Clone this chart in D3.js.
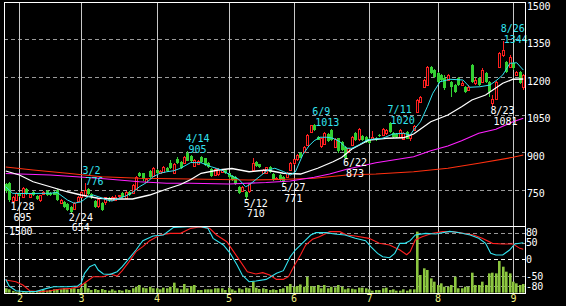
<!DOCTYPE html>
<html>
<head>
<meta charset="utf-8">
<script src="https://cdn.jsdelivr.net/npm/d3@7"></script>
<style>
  html, body { margin: 0; padding: 0; background: #000; }
  svg { display: block; }
  text { font-family: "DejaVu Sans Mono", monospace; font-size: 10px; }
</style>
</head>
<body>
<svg id="chart" width="566" height="306"></svg>
<script>
// daily candles, Jan 26 .. Sep 5 (index = trading day)
const opens = [771,777,708,710,738,722,751,724,742,724, 705,733,745,737,741,748,697,701,692,679,
  671,705,722,728,752,731,705,682,697,697, 715,708,710,722,737,716,742,735,752,817,
  815,782,825,803,828,816,822,836,855,818, 872,860,856,898,884,845,855,879,875,855,
  831,808,812,821,828,815,804,799,759,745, 741,741,830,861,851,817,817,841,812,795,
  808,801,801,828,855,871,897,901,928,981, 1010,961,921,935,972,988,921,955,941,921,
  901,928,975,951,964,961,951,955,955,968, 968,975,1015,975,972,961,955,981,955,988,
  1061,1101,1161,1168,1241,1228,1215,1208,1195,1188, 1181,1168,1195,1170,1161,1148,1248,1175,1195,1181,
  1215,1181,1098,1115,1241,1288,1261,1241,1257,1208, 1221,1160];
const highs = [775,781,726,740,742,761,755,738,746,728, 730,745,750,742,745,752,713,704,696,684,
  700,724,745,776,758,736,708,715,700,722, 720,724,728,730,742,744,746,772,805,822,
  818,798,830,840,832,830,845,840,870,858, 880,864,885,905,888,872,868,884,878,860,
  836,836,836,834,832,818,808,803,763,765, 745,778,876,865,854,832,842,845,815,802,
  812,804,820,860,874,891,902,925,972,1010, 1013,966,958,980,976,992,955,958,944,925,
  918,965,980,995,968,964,955,985,960,972, 995,992,1020,980,976,992,980,985,972,1008,
  1112,1125,1192,1245,1246,1232,1220,1214,1210,1212, 1186,1172,1200,1185,1165,1168,1252,1195,1200,1235,
  1222,1186,1128,1186,1300,1344,1266,1290,1262,1225, 1226,1212];
const lows = [735,701,695,706,722,718,730,718,726,708, 702,730,726,724,728,705,694,676,664,654,
  668,700,718,722,728,714,678,676,664,690, 700,704,706,718,718,712,724,732,748,800,
  785,778,798,800,812,812,818,822,832,815, 852,832,852,865,860,840,850,858,845,836,
  800,804,806,815,812,794,785,768,733,740, 710,736,826,840,838,812,814,818,785,790,
  785,771,796,824,850,866,876,896,924,976, 985,948,916,930,942,944,916,898,905,873,
  896,924,945,946,944,938,932,950,945,960, 964,970,978,956,955,956,950,952,945,984,
  1056,1096,1156,1164,1212,1198,1178,1185,1150,1184, 1121,1138,1165,1165,1138,1144,1178,1170,1164,1176,
  1178,1121,1081,1110,1236,1282,1218,1236,1230,1204, 1172,1148];
const closes = [741,708,722,736,726,758,733,734,728,711, 727,740,729,729,731,709,710,680,668,661,
  697,720,740,750,733,718,682,711,668,718, 705,720,722,727,722,740,728,767,800,805,
  790,794,802,835,816,826,840,826,836,852, 856,838,880,868,866,868,865,861,848,841,
  804,832,832,831,815,797,788,772,737,761, 721,775,856,844,841,828,839,821,790,798,
  788,781,817,857,871,888,879,921,968,1008, 988,951,955,977,945,948,951,901,908,878,
  915,961,948,991,948,941,935,962,950,963, 991,988,981,959,959,988,977,955,968,1004,
  1108,1121,1188,1241,1215,1201,1181,1188,1155,1208, 1161,1141,1168,1178,1141,1161,1181,1188,1168,1228,
  1181,1141,1112,1181,1295,1308,1221,1281,1235,1221, 1175,1208];
const volumes = [99,76,40,22,22,30,22,37,37,45, 45,60,45,60,76,83,76,99,76,90,
  99,83,113,211,99,60,83,60,83,60, 45,76,45,60,45,76,60,99,135,173,
  113,99,135,99,99,76,113,99,135,226, 99,76,196,99,150,173,60,60,76,76,
  76,99,99,99,60,113,76,45,99,76, 113,99,248,113,83,99,83,60,76,60,
  83,99,150,196,135,150,185,135,360,150, 135,173,99,173,99,135,120,173,135,76,
  99,90,76,113,113,99,76,45,60,60, 99,113,60,76,45,45,76,45,76,76,
  1373,398,548,511,323,248,173,211,135,135, 173,360,99,99,135,135,450,173,173,248,
  173,435,450,435,713,585,473,435,248,211, 173,196];

// moving averages: [day index, price]
const maShort = [[0,761],[2,735],[4,734],[8,734],[13,735],[15,738],[18,708],[20,695],[22,701],[24,721],
  [25.5,728],[27.5,719],[29.5,708],[31,704],[33,715],[35,724],[37,738],[39,761],[41,777],[43,801],
  [45,815],[47,821],[49,825],[51,835],[54,858],[57,857],[60,841],[63,828],[66,804],[68,791],
  [70,761],[71,768],[74,801],[76.5,828],[78.5,835],[81,822],[83,808],[84.5,820],[86.7,890],[88.5,925],
  [90,945],[91.7,959],[93.7,959],[95.5,955],[97.5,941],[99.5,915],[101,915],[103,928],[105.4,948],[107,951],
  [110,955],[113,972],[116,975],[118,968],[119,988],[121,1021],[123,1081],[124.6,1135],[126.7,1181],[129.6,1191],
  [133.4,1188],[135.4,1159],[138.3,1161],[141.3,1168],[143.3,1188],[145,1208],[147.1,1255],[149.1,1257],[151,1228]];
const maMid = [[0,824],[4,808],[8,781],[13,761],[18,741],[22,728],[27,715],[32,712],[37,712],[42,728],
  [47,752],[51,770],[54,790],[57,815],[62,828],[66,834],[71,821],[76,828],[81,815],[86,812],
  [91,835],[95.5,861],[98,878],[101,912],[106,948],[111,955],[116,957],[119,972],[124,1021],[129,1048],
  [133,1081],[136,1108],[140,1128],[145,1175],[148,1191],[151,1192]];
const maLong = [[0,814],[13,808],[27,795],[39,781],[47,775],[54,775],[65,772],[76,778],[83,784],[90,799],
  [94.5,812],[99.5,831],[108,857],[119,881],[124,905],[129,924],[133,945],[138,975],[143,991],[148,1021],
  [151,1035]];
const maLonger = [[0,840],[8,828],[18,815],[28,801],[39,795],[54,792],[71,788],[80,790],[90,795],[99.5,808],
  [108,812],[119,821],[129,835],[138,855],[148,879],[151,888]];

// oscillator lines in lower panel: [day index, value]
const oscFast = [[0,-60],[1,-80],[3,-94],[6,-97],[9,-96],[12,-87],[14,-82],[18,-82],[21,-80],[22,-72],
  [23,-42],[24.5,-22],[26,-15],[27,-32],[28.5,-44],[30.5,-45],[32.5,-37],[34,-22],[36,3],[38,28],
  [40,56],[43,70],[46,73],[49,96],[53,98],[57,98],[59,93],[60.5,63],[63.5,43],[65.5,18],
  [67.5,-17],[69,-47],[71,-67],[73,-65],[76,-60],[79,-42],[81,-34],[83,8],[84.5,28],[86.5,48],
  [89,73],[90.5,80],[93.5,80],[96,76],[99,73],[102,63],[105,56],[106.5,38],[108.5,18],[110,8],
  [112,5],[113.5,18],[115,48],[116.5,48],[118,56],[119.5,73],[122.5,78],[125.5,76],[129.5,84],[132.5,80],
  [135.5,73],[138,63],[140,48],[141.5,18],[143,13],[145,13],[147,28],[148.5,46],[151,50]];
const oscSlow = [[0,-62],[3,-67],[5,-77],[7,-94],[10,-97],[13,-94],[16,-89],[19,-87],[21.5,-82],[23.5,-67],
  [25.5,-52],[28.5,-52],[30.5,-44],[32.5,-50],[34,-34],[36,-7],[38,23],[40,38],[42,56],[45,73],
  [48,78],[51,78],[54,93],[56.5,97],[59.5,93],[61.5,73],[64.5,53],[66.5,23],[68.5,-7],[70.5,-37],
  [73,-44],[75,-40],[77,-47],[79,-60],[81,-60],[82.5,-52],[84,-22],[86,13],[87.5,43],[89.5,60],
  [91.5,68],[94.5,83],[97.5,83],[99.5,73],[102,70],[106,63],[109,48],[112,43],[115,28],[117,14],
  [118,23],[119.5,58],[121.5,68],[124.5,78],[127.5,83],[130.5,83],[133.5,78],[136.5,73],[139,63],[142,48],
  [145,46],[148,46],[150,33],[151,30]];

// axis stuff
const monthIdx = [4, 22, 44, 65, 84, 106, 126, 148];
const monthLabels = ['2', '3', '4', '5', '6', '7', '8', '9'];
const priceTicks = [750, 900, 1050, 1200, 1350, 1500];
const oscTicks = [80, 50, 0, -50, -80];

// high / low annotations
const markIdx = [2, 19, 23, 53, 70, 81, 90, 99, 112, 142, 145];
const markDate = ['1/28','2/24','3/2','4/14','5/12','5/27','6/9','6/22','7/11','8/23','8/26'];
const markKind = ['low','low','high','high','low','low','high','low','high','low','high'];

const svg = d3.select('#chart');
svg.append('rect').attr('width', 566).attr('height', 306).attr('fill', '#000');

const pLeft = 4, pRight = 525, pTop = 2, pSplit = 226, pBottom = 293;
const N = closes.length;

const x = d3.scaleLinear().domain([-0.5, N - 0.5]).range([pLeft, pRight]);
const y = d3.scaleLinear().domain([600, 1500]).range([227, pTop]);
const yo = d3.scaleLinear().domain([-100, 100]).range([292.7, pSplit]);
const yv = d3.scaleLinear().domain([0, 1500]).range([292.7, pSplit]);

const RED = '#ff2020', GREEN = '#33d033', CYAN = '#33e4f0', GRID = '#9a9a9a';

// horizontal grid, main panel
svg.append('g').selectAll('line')
  .data(priceTicks.filter(t => t < 1500))
  .join('line')
  .attr('x1', pLeft).attr('x2', pRight)
  .attr('y1', d => Math.round(y(d)) + 0.5).attr('y2', d => Math.round(y(d)) + 0.5)
  .attr('stroke', GRID).attr('stroke-dasharray', '4,3');

// horizontal grid, lower panel
svg.append('g').selectAll('line')
  .data(oscTicks)
  .join('line')
  .attr('x1', pLeft).attr('x2', pRight)
  .attr('y1', d => Math.round(yo(d)) + 0.5).attr('y2', d => Math.round(yo(d)) + 0.5)
  .attr('stroke', d => d === 0 ? '#fff' : GRID)
  .attr('stroke-dasharray', '4,3');

// month lines
svg.append('g').selectAll('line')
  .data(monthIdx)
  .join('line')
  .attr('x1', d => Math.round(x(d)) + 0.5).attr('x2', d => Math.round(x(d)) + 0.5)
  .attr('y1', pTop).attr('y2', pBottom)
  .attr('stroke', '#c8c8c8');

// volume bars
svg.append('g').selectAll('rect')
  .data(volumes)
  .join('rect')
  .attr('x', (d, i) => Math.round(x(i)) - 1)
  .attr('width', 2.6)
  .attr('y', d => yv(d))
  .attr('height', d => yv(0) - yv(d))
  .attr('fill', '#8cc640');

// oscillators
const lineO = d3.line().x(d => x(d[0])).y(d => yo(d[1]));
svg.append('path').datum(oscSlow).attr('d', lineO)
  .attr('fill', 'none').attr('stroke', RED).attr('stroke-width', 1.1);
svg.append('path').datum(oscFast).attr('d', lineO)
  .attr('fill', 'none').attr('stroke', CYAN).attr('stroke-width', 1.1);

// moving averages
const lineP = d3.line().x(d => x(d[0])).y(d => y(d[1]));
const maDefs = [
  { data: maLonger, color: '#ff3010', w: 1.2 },
  { data: maLong, color: '#ff20ff', w: 1.2 },
  { data: maMid, color: '#ffffff', w: 1.3 },
  { data: maShort, color: CYAN, w: 1 }
];

// candles
const cg = svg.append('g').attr('shape-rendering', 'crispEdges');
const idx = d3.range(N);
const cx = i => Math.round(x(i));
cg.selectAll('line')
  .data(idx)
  .join('line')
  .attr('x1', i => cx(i) + 0.5).attr('x2', i => cx(i) + 0.5)
  .attr('y1', i => y(highs[i])).attr('y2', i => y(lows[i]))
  .attr('stroke', i => closes[i] >= opens[i] ? RED : GREEN);
cg.selectAll('rect.up')
  .data(idx.filter(i => closes[i] >= opens[i]))
  .join('rect')
  .attr('class', 'up')
  .attr('x', i => cx(i) - 0.5)
  .attr('width', 2)
  .attr('y', i => Math.round(y(closes[i])) + 0.5)
  .attr('height', i => Math.max(1, Math.round(y(opens[i]) - y(closes[i]))))
  .attr('fill', '#000').attr('stroke', RED);
cg.selectAll('rect.down')
  .data(idx.filter(i => closes[i] < opens[i]))
  .join('rect')
  .attr('class', 'down')
  .attr('x', i => cx(i) - 1)
  .attr('width', 3)
  .attr('y', i => Math.round(y(opens[i])))
  .attr('height', i => Math.max(1, Math.round(y(closes[i]) - y(opens[i]))))
  .attr('fill', GREEN);

maDefs.forEach(m => {
  svg.append('path').datum(m.data).attr('d', lineP)
    .attr('fill', 'none').attr('stroke', m.color).attr('stroke-width', m.w);
});

// annotations of highs and lows: date line and value line
const marks = markIdx.map((i, k) => ({
  i, date: markDate[k], kind: markKind[k],
  value: markKind[k] === 'high' ? highs[i] : lows[i]
}));
const mg = svg.append('g').style('font-size', '9px');
marks.forEach(m => {
  const px = x(m.i);
  const py = y(m.value);
  const col = m.kind === 'high' ? CYAN : '#fff';
  const dateY = m.kind === 'high' ? py - 8.8 : py + 7.2;
  mg.append('text').attr('fill', col).attr('x', px - 2).attr('y', dateY).text(m.date);
  mg.append('text').attr('fill', col).attr('x', px + 1).attr('y', dateY + 10.6).text(m.value);
});

// frame
const frame = svg.append('g').attr('stroke', '#fff').attr('fill', 'none').attr('shape-rendering', 'crispEdges');
frame.append('rect').attr('x', pLeft + 0.5).attr('y', pTop + 0.5)
  .attr('width', pRight - pLeft).attr('height', pBottom - pTop);
frame.append('line').attr('x1', pLeft).attr('x2', pRight + 1)
  .attr('y1', pSplit + 0.5).attr('y2', pSplit + 0.5);

// right axes
const axP = svg.append('g').attr('transform', `translate(${pRight + 1},0)`)
  .call(d3.axisRight(y).tickValues(priceTicks).tickSize(0).tickPadding(1)
    .tickFormat(d => String(d)));
axP.select('.domain').remove();
axP.selectAll('text').attr('fill', '#fff').attr('dy', '0.72em')
  .attr('letter-spacing', '-0.2px')
  .style('font-family', '"DejaVu Sans Mono", monospace').style('font-size', '10px');

const axO = svg.append('g').attr('transform', `translate(${pRight},0)`)
  .call(d3.axisRight(yo).tickValues(oscTicks).tickSize(0).tickPadding(1)
    .tickFormat(d => String(d)));
axO.select('.domain').remove();
axO.selectAll('text').attr('fill', '#fff')
  .attr('letter-spacing', '-0.4px')
  .style('font-family', '"DejaVu Sans Mono", monospace').style('font-size', '10px');

// volume scale label
svg.append('text').attr('x', 9).attr('y', yv(1500) + 9).attr('fill', '#fff')
  .attr('letter-spacing', '-0.2px').text('1500');

// month axis
const axM = svg.append('g').attr('transform', `translate(0,${pBottom})`)
  .call(d3.axisBottom(x).tickValues(monthIdx).tickSize(0).tickPadding(2)
    .tickFormat((d, k) => monthLabels[k]));
axM.select('.domain').remove();
axM.selectAll('text').attr('fill', '#f0f080')
  .style('font-family', '"DejaVu Sans Mono", monospace').style('font-size', '10px');
</script>
</body>
</html>
